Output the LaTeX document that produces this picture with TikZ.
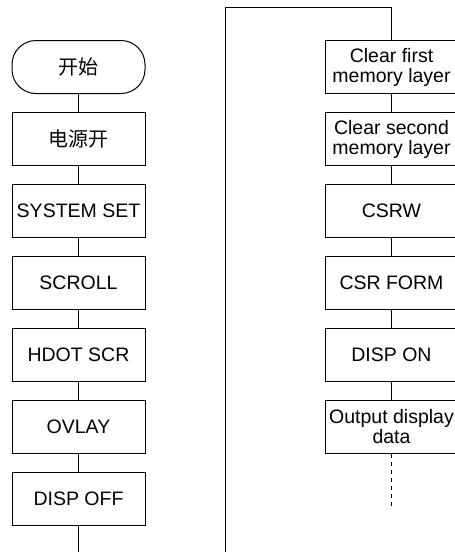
\documentclass[tikz,border=0pt]{standalone}
\usepackage{fontspec}
\setmainfont{Liberation Sans}
\newfontfamily\cjk{Noto Sans CJK SC}
\usetikzlibrary{positioning}

\tikzset{
  stepbox/.style={draw,line width=1pt,minimum width=133pt,minimum height=53pt,
    inner sep=0pt,outer sep=0pt,align=center,font=\fontsize{19.5}{20}\selectfont},
  startbox/.style={stepbox,rounded corners=24pt},
  link/.style={line width=1pt},
}

\begin{document}
\begin{tikzpicture}[x=1pt,y=-1pt,node distance=19pt]
  \clip (0,0) rectangle (455,552);
  % Left column
  \node[startbox] (start) at (78.5,67) {\cjk\fontsize{20}{20}\selectfont 开始};
  \node[stepbox,below=of start] (power) {\cjk\fontsize{20}{20}\selectfont 电源开};
  \node[stepbox,below=of power] (sysset) {SYSTEM SET};
  \node[stepbox,below=of sysset] (scroll) {SCROLL};
  \node[stepbox,below=of scroll] (hdot) {HDOT SCR};
  \node[stepbox,below=of hdot] (ovlay) {OVLAY};
  \node[stepbox,below=of ovlay] (dispoff) {DISP OFF};
  \coordinate (leftend) at (78.5,552);
  % Right column
  \node[stepbox] (clrone) at (391.5,67) {Clear first\\memory layer};
  \node[stepbox,below=of clrone] (clrtwo) {Clear second\\memory layer};
  \node[stepbox,below=of clrtwo] (csrw) {CSRW};
  \node[stepbox,below=of csrw] (csrform) {CSR FORM};
  \node[stepbox,below=of csrform] (dispon) {DISP ON};
  \node[stepbox,below=of dispon] (output) {Output display\\data};
  \coordinate (rightend) at (391.5,507);
  % Return line
  \coordinate (loopbot) at (225,552);
  \coordinate (looptop) at (225,7);

  \foreach \a/\b in {start/power,power/sysset,sysset/scroll,scroll/hdot,
      hdot/ovlay,ovlay/dispoff,dispoff/leftend,clrone/clrtwo,clrtwo/csrw,
      csrw/csrform,csrform/dispon,dispon/output}
    \draw[link] (\a) -- (\b);
  \draw[link] (loopbot) -- (looptop) -| (clrone);
  \draw[link,dash pattern=on 4pt off 4pt] (output) -- (rightend);
\end{tikzpicture}
\end{document}
